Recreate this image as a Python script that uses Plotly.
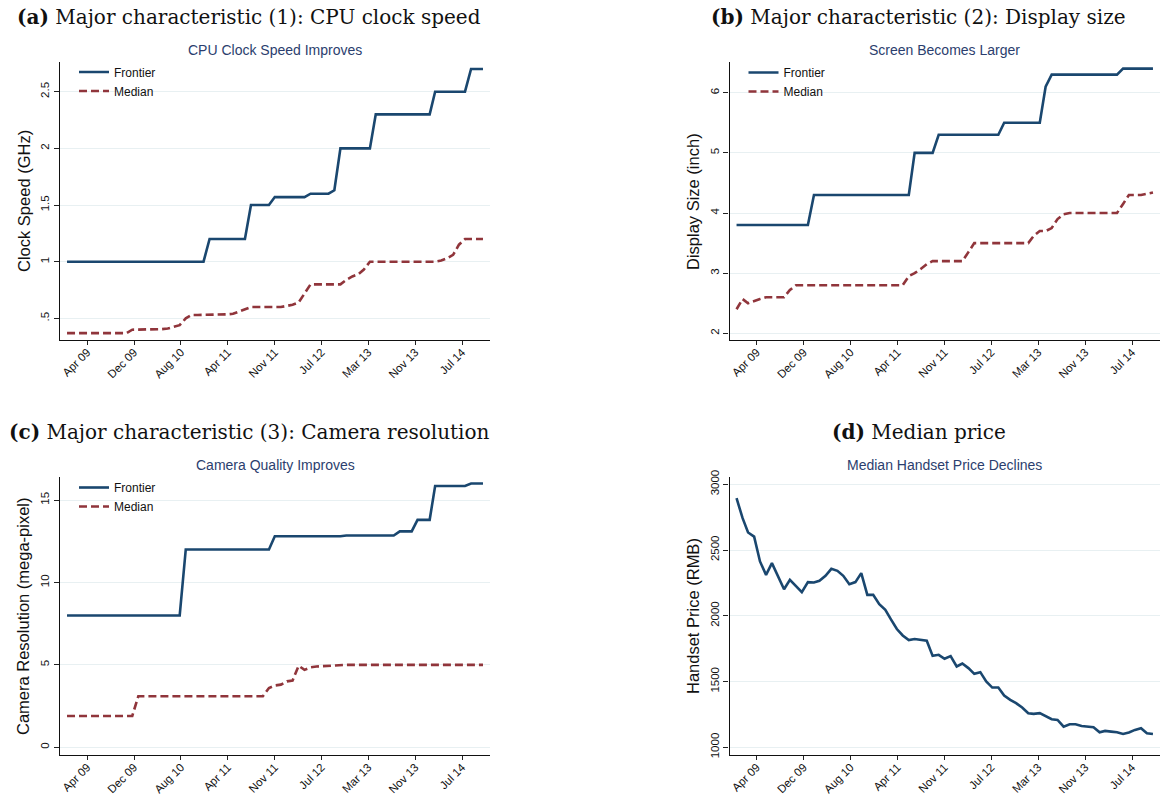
import pandas as pd
import plotly.graph_objects as go

# ---------------- data ----------------
months = pd.date_range("2009-01-01", periods=71, freq="MS")

tick_dates = ["2009-04-14", "2009-12-10", "2010-08-07", "2011-04-04", "2011-11-30",
              "2012-07-27", "2013-03-24", "2013-11-19", "2014-07-17"]
tick_labels = ["Apr 09", "Dec 09", "Aug 10", "Apr 11", "Nov 11",
               "Jul 12", "Mar 13", "Nov 13", "Jul 14"]

cpu_frontier = [1.0, 1.0, 1.0, 1.0, 1.0, 1.0, 1.0, 1.0, 1.0, 1.0, 1.0, 1.0,
                1.0, 1.0, 1.0, 1.0, 1.0, 1.0, 1.0, 1.0, 1.0, 1.0, 1.0, 1.0,
                1.2, 1.2, 1.2, 1.2, 1.2, 1.2, 1.2,
                1.5, 1.5, 1.5, 1.5,
                1.57, 1.57, 1.57, 1.57, 1.57, 1.57,
                1.6, 1.6, 1.6, 1.6,
                1.63,
                2.0, 2.0, 2.0, 2.0, 2.0, 2.0,
                2.3, 2.3, 2.3, 2.3, 2.3, 2.3, 2.3, 2.3, 2.3, 2.3,
                2.5, 2.5, 2.5, 2.5, 2.5, 2.5,
                2.7, 2.7, 2.7]
cpu_median = [0.37, 0.37, 0.37, 0.37, 0.37, 0.37, 0.37, 0.37, 0.37, 0.37, 0.37,
              0.40, 0.40, 0.40, 0.40, 0.40,
              0.405, 0.41, 0.425, 0.44, 0.50,
              0.53, 0.53, 0.53, 0.53, 0.53, 0.53,
              0.535, 0.54, 0.56, 0.58,
              0.60, 0.60, 0.60, 0.60, 0.60, 0.60,
              0.61, 0.62, 0.64, 0.72,
              0.80, 0.80, 0.80, 0.80, 0.80, 0.80,
              0.84, 0.87, 0.89, 0.93,
              1.0, 1.0, 1.0, 1.0, 1.0, 1.0, 1.0, 1.0, 1.0, 1.0, 1.0, 1.0,
              1.01, 1.03, 1.06, 1.15,
              1.2, 1.2, 1.2, 1.2]

display_frontier = [3.8, 3.8, 3.8, 3.8, 3.8, 3.8, 3.8, 3.8, 3.8, 3.8, 3.8, 3.8, 3.8,
                    4.3, 4.3, 4.3, 4.3, 4.3, 4.3, 4.3, 4.3, 4.3, 4.3, 4.3, 4.3,
                    4.3, 4.3, 4.3, 4.3, 4.3,
                    5.0, 5.0, 5.0, 5.0,
                    5.3, 5.3, 5.3, 5.3, 5.3, 5.3, 5.3, 5.3, 5.3, 5.3, 5.3,
                    5.5, 5.5, 5.5, 5.5, 5.5, 5.5, 5.5,
                    6.1,
                    6.3, 6.3, 6.3, 6.3, 6.3, 6.3, 6.3, 6.3, 6.3, 6.3, 6.3, 6.3,
                    6.4, 6.4, 6.4, 6.4, 6.4, 6.4]
display_median = [2.40, 2.57, 2.50, 2.54, 2.57, 2.60, 2.60, 2.60, 2.60, 2.72, 2.80,
                  2.80, 2.80, 2.80, 2.80, 2.80, 2.80, 2.80, 2.80, 2.80, 2.80, 2.80,
                  2.80, 2.80, 2.80, 2.80, 2.80, 2.80, 2.80,
                  2.95, 3.00, 3.07, 3.15, 3.20,
                  3.20, 3.20, 3.20, 3.20, 3.20,
                  3.35, 3.50,
                  3.50, 3.50, 3.50, 3.50, 3.50, 3.50, 3.50, 3.50, 3.50,
                  3.62, 3.70, 3.70, 3.75, 3.90, 3.98,
                  4.00, 4.00, 4.00, 4.00, 4.00, 4.00, 4.00, 4.00, 4.00,
                  4.15, 4.30, 4.30, 4.30, 4.32, 4.34]

camera_frontier = [8.0, 8.0, 8.0, 8.0, 8.0, 8.0, 8.0, 8.0, 8.0, 8.0,
                   8.0, 8.0, 8.0, 8.0, 8.0, 8.0, 8.0, 8.0, 8.0, 8.0,
                   12.0, 12.0, 12.0, 12.0, 12.0, 12.0, 12.0, 12.0, 12.0, 12.0,
                   12.0, 12.0, 12.0, 12.0, 12.0,
                   12.8, 12.8, 12.8, 12.8, 12.8, 12.8, 12.8, 12.8, 12.8, 12.8, 12.8, 12.8,
                   12.85, 12.85, 12.85, 12.85, 12.85, 12.85, 12.85, 12.85, 12.85,
                   13.1, 13.1, 13.1,
                   13.8, 13.8, 13.8,
                   15.85, 15.85, 15.85, 15.85, 15.85, 15.85,
                   16.0, 16.0, 16.0]
camera_median = [1.9, 1.9, 1.9, 1.9, 1.9, 1.9, 1.9, 1.9, 1.9, 1.9, 1.9, 1.9,
                 3.1, 3.1, 3.1, 3.1, 3.1, 3.1, 3.1, 3.1, 3.1, 3.1, 3.1,
                 3.1, 3.1, 3.1, 3.1, 3.1, 3.1, 3.1, 3.1, 3.1, 3.1, 3.1,
                 3.6, 3.75, 3.8, 4.0, 4.05, 4.95, 4.7, 4.85, 4.9, 4.92, 4.97,
                 5.0, 5.0, 5.0, 5.0, 5.0, 5.0, 5.0, 5.0, 5.0, 5.0, 5.0, 5.0, 5.0,
                 5.0, 5.0, 5.0, 5.0, 5.0, 5.0, 5.0, 5.0, 5.0, 5.0, 5.0, 5.0, 5.0]

median_price = [2894, 2742, 2633, 2602, 2413, 2311, 2400, 2299, 2202, 2273,
                2228, 2180, 2256, 2253, 2266, 2304, 2357, 2342, 2304, 2240,
                2256, 2324, 2159, 2159, 2088, 2045, 1975, 1899, 1850, 1815,
                1823, 1815, 1810, 1695, 1703, 1673, 1693, 1614, 1637, 1602,
                1558, 1571, 1500, 1454, 1454, 1393, 1360, 1335, 1302, 1259,
                1254, 1259, 1239, 1213, 1208, 1157, 1175, 1175, 1162, 1155,
                1152, 1114, 1124, 1119, 1114, 1101, 1112, 1132, 1145, 1107, 1101]

cpu_ticks = [0.5, 1, 1.5, 2, 2.5]
cpu_ticktext = [".5", "1", "1.5", "2", "2.5"]
display_ticks = [2, 3, 4, 5, 6]
camera_ticks = [0, 5, 10, 15]
price_ticks = [1000, 1500, 2000, 2500, 3000]

# ---------------- styling ----------------
W, H = 1160, 796
NAVY = "#1a476f"
MAROON = "#90353b"
SUB = "#2b3e6e"
SANS = "Liberation Sans"
SERIF = "DejaVu Serif"


def px_x(p):
    return p / W


def px_y(p):
    return 1 - p / H


x_range = ["2008-11-26", "2014-12-07"]
dom_left = [px_x(60), px_x(490)]
dom_right = [px_x(729.5), 1.0]
dom_top = [px_y(340), px_y(62)]
dom_bot = [px_y(755), px_y(477.3)]

fig = go.Figure()

panels = [
    ("x", "y", "legend", cpu_frontier, cpu_median),
    ("x2", "y2", "legend2", display_frontier, display_median),
    ("x3", "y3", "legend3", camera_frontier, camera_median),
]
for xa, ya, lg, fr, md in panels:
    fig.add_trace(go.Scatter(x=months, y=fr, mode="lines", name="Frontier",
                             line=dict(color=NAVY, width=2.6), xaxis=xa, yaxis=ya,
                             legend=lg))
    fig.add_trace(go.Scatter(x=months, y=md, mode="lines", name="Median",
                             line=dict(color=MAROON, width=2.6, dash="8px,4px"),
                             xaxis=xa, yaxis=ya, legend=lg))

fig.add_trace(go.Scatter(x=months, y=median_price, mode="lines", name="Median price",
                         line=dict(color=NAVY, width=2.6), xaxis="x4", yaxis="y4",
                         showlegend=False))

xcommon = dict(type="date", range=x_range, tickvals=tick_dates, ticktext=tick_labels,
               tickangle=-45, ticks="outside", ticklen=4, tickwidth=1, tickcolor="#222",
               ticklabelstandoff=-4,
               showline=True, linecolor="#111", linewidth=1.3, showgrid=False,
               zeroline=False, automargin=False,
               tickfont=dict(family=SANS, size=11.5, color="#111"))
ycommon = dict(tickangle=-90, ticks="outside", ticklen=5, tickwidth=1, tickcolor="#222",
               showline=True, linecolor="#111", linewidth=1.3, showgrid=True,
               gridcolor="#e8f0f2", gridwidth=1, zeroline=False, automargin=False,
               tickfont=dict(family=SANS, size=11.5, color="#111"))

fig.update_layout(
    template="none",
    width=W, height=H, margin=dict(l=0, r=0, t=0, b=0, pad=0, autoexpand=False),
    paper_bgcolor="white", plot_bgcolor="white",
    xaxis=dict(domain=dom_left, anchor="y", **xcommon),
    yaxis=dict(domain=dom_top, anchor="x", range=[0.309, 2.762], tickvals=cpu_ticks,
               ticktext=cpu_ticktext, **ycommon),
    xaxis2=dict(domain=dom_right, anchor="y2", **xcommon),
    yaxis2=dict(domain=dom_top, anchor="x2", range=[1.889, 6.51], tickvals=display_ticks,
                **ycommon),
    xaxis3=dict(domain=dom_left, anchor="y3", **xcommon),
    yaxis3=dict(domain=dom_bot, anchor="x3", range=[-0.467, 16.38], tickvals=camera_ticks,
                **ycommon),
    xaxis4=dict(domain=dom_right, anchor="y4", **xcommon),
    yaxis4=dict(domain=dom_bot, anchor="x4", range=[941, 3053], tickvals=price_ticks,
                **ycommon),
    showlegend=True,
)

leg_common = dict(xanchor="left", yanchor="top", bgcolor="rgba(0,0,0,0)",
                  borderwidth=0, tracegroupgap=0,
                  font=dict(family=SANS, size=12, color="#111"))
fig.update_layout(
    legend=dict(x=px_x(74), y=px_y(57.5), **leg_common),
    legend2=dict(x=px_x(743.5), y=px_y(58), **leg_common),
    legend3=dict(x=px_x(74), y=px_y(473), **leg_common),
)

headers = [
    ("<b>(a)</b> Major characteristic (1): CPU clock speed", 249, 17),
    ("<b>(b)</b> Major characteristic (2): Display size", 919, 17),
    ("<b>(c)</b> Major characteristic (3): Camera resolution", 249, 432),
    ("<b>(d)</b> Median price", 919, 432),
]
for txt, cx, cy in headers:
    fig.add_annotation(text=txt, x=px_x(cx), y=px_y(cy), xref="paper", yref="paper",
                       xanchor="center", yanchor="middle", showarrow=False,
                       font=dict(family=SERIF, size=20, color="#111"))

subtitles = [
    ("CPU Clock Speed Improves", 275, 50),
    ("Screen Becomes Larger", 944.5, 50),
    ("Camera Quality Improves", 275, 465),
    ("Median Handset Price Declines", 944.5, 465),
]
for txt, cx, cy in subtitles:
    fig.add_annotation(text=txt, x=px_x(cx), y=px_y(cy), xref="paper", yref="paper",
                       xanchor="center", yanchor="middle", showarrow=False,
                       font=dict(family=SANS, size=14, color=SUB))

ytitles = [
    ("Clock Speed (GHz)", 24, 201),
    ("Display Size (inch)", 693, 201),
    ("Camera Resolution (mega-pixel)", 23, 616),
    ("Handset Price (RMB)", 693, 616),
]
for txt, cx, cy in ytitles:
    fig.add_annotation(text=txt, x=px_x(cx), y=px_y(cy), xref="paper", yref="paper",
                       xanchor="center", yanchor="middle", showarrow=False,
                       textangle=-90, font=dict(family=SANS, size=16.5, color="#111"))

fig.write_html("out.html")
